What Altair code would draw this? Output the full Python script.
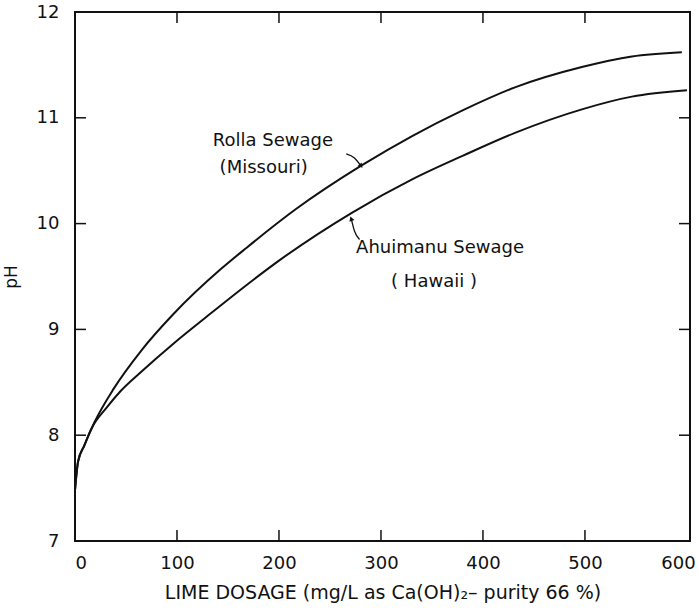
import altair as alt
import pandas as pd

# Lime dosage (mg/L) vs. resulting pH for two raw sewages
rolla_dose = [0, 3, 9, 19, 38, 65, 97, 143, 168, 217, 281, 331, 380, 432, 497, 546, 595]
rolla_ph = [7.48, 7.75, 7.90, 8.12, 8.44, 8.80, 9.15, 9.57, 9.77, 10.14, 10.55, 10.83, 11.07, 11.29, 11.48, 11.58, 11.62]

hawaii_dose = [0, 3, 9, 16, 31, 45, 65, 97, 129, 175, 200, 271, 331, 380, 432, 497, 546, 600]
hawaii_ph = [7.48, 7.75, 7.90, 8.06, 8.26, 8.42, 8.60, 8.87, 9.12, 9.47, 9.65, 10.10, 10.42, 10.64, 10.86, 11.08, 11.20, 11.26]

x_ticks = [0, 100, 200, 300, 400, 500, 600]
y_ticks = [7, 8, 9, 10, 11, 12]

# curve labels
label_text = ["Rolla Sewage", "(Missouri)", "Ahuimanu Sewage", "( Hawaii )"]
label_dose = [194, 185, 358, 352]
label_ph = [10.78, 10.53, 9.77, 9.45]

# leader arrows from labels to curves
arrow_id = ["rolla", "rolla", "rolla", "hawaii", "hawaii", "hawaii"]
arrow_order = [0, 1, 2, 0, 1, 2]
arrow_dose = [266, 274, 280, 279, 274, 271]
arrow_ph = [10.66, 10.62, 10.55, 9.85, 9.93, 10.04]
head_dose = [280, 271]
head_ph = [10.55, 10.04]
head_angle = [140, 340]

W, H = 615, 529
FONT = "DejaVu Sans"
INK = "#111111"

curves = pd.concat([
    pd.DataFrame({"dose": rolla_dose, "ph": rolla_ph, "series": "Rolla"}),
    pd.DataFrame({"dose": hawaii_dose, "ph": hawaii_ph, "series": "Hawaii"}),
])

xs = alt.Scale(domain=[0, 603], nice=False, zero=False)
ys = alt.Scale(domain=[7, 12], nice=False, zero=False)

x_axis = alt.Axis(values=x_ticks, format="d", tickSize=0, domain=False, grid=False,
                  labelFontSize=18, labelFont=FONT, labelColor=INK, labelPadding=13,
                  labelOffset={"condition": {"test": "datum.value == 600", "value": -9}, "value": 0},
                  title="LIME  DOSAGE  (mg/L as Ca(OH)₂– purity 66 %)",
                  titleFontSize=19, titleFont=FONT, titleFontWeight="normal",
                  titleColor=INK, titlePadding=11)
y_axis = alt.Axis(values=y_ticks, format="d", tickSize=0, domain=False, grid=False,
                  labelFontSize=18, labelFont=FONT, labelColor=INK, labelPadding=16,
                  title="pH", titleFontSize=17, titleFont=FONT,
                  titleFontWeight="normal", titleColor=INK, titlePadding=16)

lines = alt.Chart(curves).mark_line(
    color=INK, strokeWidth=2, interpolate="monotone"
).encode(
    x=alt.X("dose:Q", scale=xs, axis=x_axis),
    y=alt.Y("ph:Q", scale=ys, axis=y_axis),
    detail="series:N",
)

# inward tick marks on all four sides
xt = pd.DataFrame({"v": x_ticks[1:-1]})
yt = pd.DataFrame({"v": y_ticks[1:-1]})
tick_bottom = alt.Chart(xt).mark_rule(color=INK, strokeWidth=1.5).encode(
    x=alt.X("v:Q", scale=xs), y=alt.value(H), y2=alt.value(H - 11))
tick_top = alt.Chart(xt).mark_rule(color=INK, strokeWidth=1.5).encode(
    x=alt.X("v:Q", scale=xs), y=alt.value(0), y2=alt.value(11))
tick_left = alt.Chart(yt).mark_rule(color=INK, strokeWidth=1.5).encode(
    y=alt.Y("v:Q", scale=ys), x=alt.value(0), x2=alt.value(11))
tick_right = alt.Chart(yt).mark_rule(color=INK, strokeWidth=1.5).encode(
    y=alt.Y("v:Q", scale=ys), x=alt.value(W), x2=alt.value(W - 11))

labels = alt.Chart(pd.DataFrame({"t": label_text, "dose": label_dose, "ph": label_ph})).mark_text(
    font=FONT, fontSize=18, color=INK, align="center", baseline="middle"
).encode(x=alt.X("dose:Q", scale=xs), y=alt.Y("ph:Q", scale=ys), text="t:N")

arrows = alt.Chart(pd.DataFrame({"id": arrow_id, "o": arrow_order,
                                 "dose": arrow_dose, "ph": arrow_ph})).mark_line(
    color=INK, strokeWidth=1.3, interpolate="monotone"
).encode(x=alt.X("dose:Q", scale=xs), y=alt.Y("ph:Q", scale=ys),
         detail="id:N", order="o:Q")

heads = alt.Chart(pd.DataFrame({"dose": head_dose, "ph": head_ph, "a": head_angle})).mark_point(
    shape="triangle", filled=True, color=INK, size=28, opacity=1
).encode(x=alt.X("dose:Q", scale=xs), y=alt.Y("ph:Q", scale=ys),
         angle=alt.Angle("a:Q", scale=None))

chart = alt.layer(
    lines, tick_bottom, tick_top, tick_left, tick_right, arrows, heads, labels
).properties(
    width=W, height=H,
    background="white",
    autosize=alt.AutoSizeParams(type="none"),
    padding={"left": 75, "top": 12, "right": 9, "bottom": 73},
).configure_view(
    stroke=INK, strokeWidth=2
)

chart.save("out.html", embed_options={"renderer": "svg", "actions": False})
